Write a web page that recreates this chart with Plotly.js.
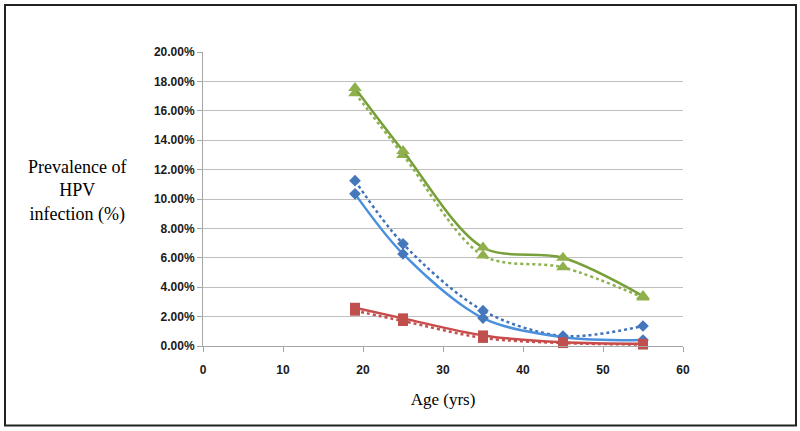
<!DOCTYPE html>
<html><head><meta charset="utf-8">
<script src="https://cdn.plot.ly/plotly-3.0.1.min.js"></script>
<style>html,body{margin:0;padding:0;background:#fff}#chart{width:800px;height:431px}</style>
</head><body><div id="chart"></div>
<script>
const ages = [19, 25, 35, 45, 55];
const greenSolid = [0.1755, 0.1327, 0.0670, 0.0600, 0.0340];
const greenDotted = [0.1720, 0.1300, 0.0615, 0.0535, 0.0330];
const blueSolid = [0.1035, 0.0626, 0.0190, 0.0060, 0.0040];
const blueDotted = [0.1125, 0.0695, 0.0240, 0.0068, 0.0136];
const redSolid = [0.0260, 0.0188, 0.0072, 0.0025, 0.0015];
const redDotted = [0.0240, 0.0170, 0.0055, 0.0020, 0.0010];
const yTicks = [0, 0.02, 0.04, 0.06, 0.08, 0.10, 0.12, 0.14, 0.16, 0.18, 0.20];
const yTickText = ['0.00%','2.00%','4.00%','6.00%','8.00%','10.00%','12.00%','14.00%','16.00%','18.00%','20.00%'];
const xTicks = [0, 10, 20, 30, 40, 50, 60];

function tr(y, color, mcolor, symbol, size, dash){
  return {x: ages, y: y, mode: 'lines+markers', type: 'scatter', showlegend: false,
    line: {color: color, width: 2.5, dash: dash ? 'dot' : 'solid', shape: 'spline', smoothing: 0.9},
    marker: {color: mcolor, symbol: symbol, size: size}, cliponaxis: false};
}
const data = [
  tr(greenDotted, '#8db14e', '#8fb04c', 'triangle-up', 12, true),
  tr(blueDotted, '#3f72b8', '#4577bb', 'diamond', 9, true),
  tr(redDotted, '#c0504d', '#c0504d', 'square', 10, true),
  tr(greenSolid, '#77a03a', '#8fb04c', 'triangle-up', 12, false),
  tr(blueSolid, '#4b90dc', '#4577bb', 'diamond', 9, false),
  tr(redSolid, '#c84d4a', '#c0504d', 'square', 10, false)
];
const tickFont = {family: 'Liberation Sans, Arial, sans-serif', size: 12, color: '#1a1a1a', weight: 'bold'};
const layout = {
  width: 800, height: 431,
  margin: {l: 203, r: 117, t: 52, b: 85},
  paper_bgcolor: '#fff', plot_bgcolor: '#fff',
  xaxis: {range: [0, 60], tickvals: xTicks, showgrid: false, zeroline: false,
    showline: true, linecolor: '#a6a6a6', linewidth: 1, ticks: 'outside', ticklen: 5, tickcolor: '#a6a6a6',
    tickfont: tickFont, ticklabelstandoff: 8,
    title: {text: 'Age (yrs)', font: {family: 'Liberation Serif, Times New Roman, serif', size: 17, color: '#000'}, standoff: 16}},
  yaxis: {range: [0, 0.20], tickvals: yTicks, ticktext: yTickText, showgrid: true, gridcolor: '#bfbfbf', gridwidth: 1,
    zeroline: false, showline: true, linecolor: '#a6a6a6', linewidth: 1, ticks: 'outside', ticklen: 5, tickcolor: '#a6a6a6',
    tickfont: tickFont},
  annotations: [{xref: 'paper', yref: 'paper', x: -0.263, y: 0.527, xanchor: 'center', yanchor: 'middle', showarrow: false,
    text: 'Prevalence of<br>HPV<br>infection (%)', align: 'center',
    font: {family: 'Liberation Serif, Times New Roman, serif', size: 18, color: '#000'}}],
  shapes: [{type: 'rect', xref: 'paper', yref: 'paper', x0: -0.4125, x1: 1.2354, y0: -0.2705, y1: 1.160,
    line: {color: '#222', width: 2}, fillcolor: 'rgba(0,0,0,0)'}]
};
Plotly.newPlot('chart', data, layout, {displayModeBar: false, staticPlot: true});
</script></body></html>
